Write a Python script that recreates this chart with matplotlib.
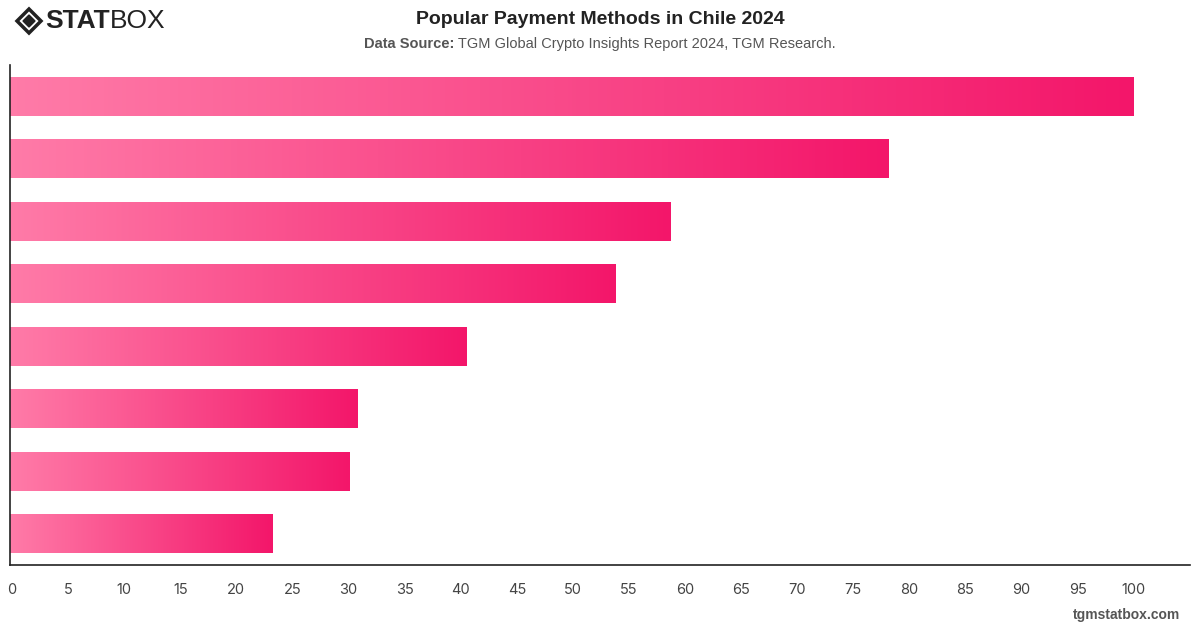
import matplotlib
matplotlib.use('Agg')
import matplotlib.pyplot as plt
import matplotlib.transforms as mtransforms
from matplotlib.colors import LinearSegmentedColormap
from matplotlib.patches import Polygon
import numpy as np

plt.rcParams['font.family'] = ['Liberation Sans', 'DejaVu Sans']

# data (top bar first)
values = [100.2, 78.3, 58.9, 54.0, 40.7, 31.0, 30.3, 23.4]
x_ticks = list(range(0, 101, 5))

BAR_LIGHT = '#ff7ba8'
BAR_DARK = '#f3166a'
cmap = LinearSegmentedColormap.from_list('pink', [BAR_LIGHT, BAR_DARK])

fig = plt.figure(figsize=(12, 6.28), dpi=100)
ax = fig.add_axes([10 / 1200, 63 / 628, 1180 / 1200, 500 / 628])

bar_h = 0.62
grad = np.linspace(0, 1, 256).reshape(1, -1)
for i, v in enumerate(values):
    ax.imshow(grad, cmap=cmap, aspect='auto', interpolation='bicubic',
              extent=[0, v, i + bar_h / 2, i - bar_h / 2], zorder=2)

ax.set_xlim(0, 105.2)
ax.set_ylim(len(values) - 0.5, -0.5)
ax.set_yticks([])
ax.set_xticks(x_ticks)
ax.tick_params(axis='x', length=0, pad=13, labelsize=10.5, labelcolor='#444444')
offset = mtransforms.ScaledTranslation(2 / 100, 0, fig.dpi_scale_trans)
for lab in ax.get_xticklabels():
    lab.set_fontfamily(['Inter', 'DejaVu Sans'])
    lab.set_transform(lab.get_transform() + offset)

for side in ['top', 'right']:
    ax.spines[side].set_visible(False)
for side in ['left', 'bottom']:
    ax.spines[side].set_color('#222222')
    ax.spines[side].set_linewidth(1.2)

# title and subtitle
fig.text(0.5, 1 - 17 / 628, 'Popular Payment Methods in Chile 2024',
         ha='center', va='center_baseline', fontsize=14, fontweight='bold', color='#222222')

sub_y = 1 - 44 / 628
s1 = fig.text(0, sub_y, 'Data Source:', ha='left', va='center', fontsize=10.5,
              fontweight='bold', color='#555555')
s2 = fig.text(0, sub_y, ' TGM Global Crypto Insights Report 2024, TGM Research.',
              ha='left', va='center', fontsize=10.5, color='#555555')
fig.canvas.draw()
w1 = s1.get_window_extent().width
w2 = s2.get_window_extent().width
start = (1200 - (w1 + w2)) / 2
s1.set_x(start / 1200)
s2.set_x((start + w1) / 1200)

# logo
def diamond(cx, cy, r, **kw):
    w = r / 1200
    h = r / 628
    return Polygon([(cx, cy + h), (cx + w, cy), (cx, cy - h), (cx - w, cy)],
                   transform=fig.transFigure, **kw)

cx, cy = 29 / 1200, 1 - 21 / 628
fig.patches.append(diamond(cx, cy, 12, closed=True, fill=False, edgecolor='#222222', linewidth=2.5))
fig.patches.append(diamond(cx, cy, 6, closed=True, facecolor='#222222', edgecolor='#222222'))
t1 = fig.text(45 / 1200, cy, 'STAT', ha='left', va='center', fontsize=19,
              fontweight='heavy', color='#222222')
fig.canvas.draw()
bb = t1.get_window_extent()
fig.text(bb.x1 / 1200, cy, 'BOX', ha='left', va='center', fontsize=19,
         fontweight='light', color='#222222')

fig.text(1180 / 1200, 1 - 615 / 628, 'tgmstatbox.com', ha='right', va='center',
         fontsize=10, fontweight='bold', color='#555555')

fig.savefig('out.png', dpi=100, facecolor='white')
